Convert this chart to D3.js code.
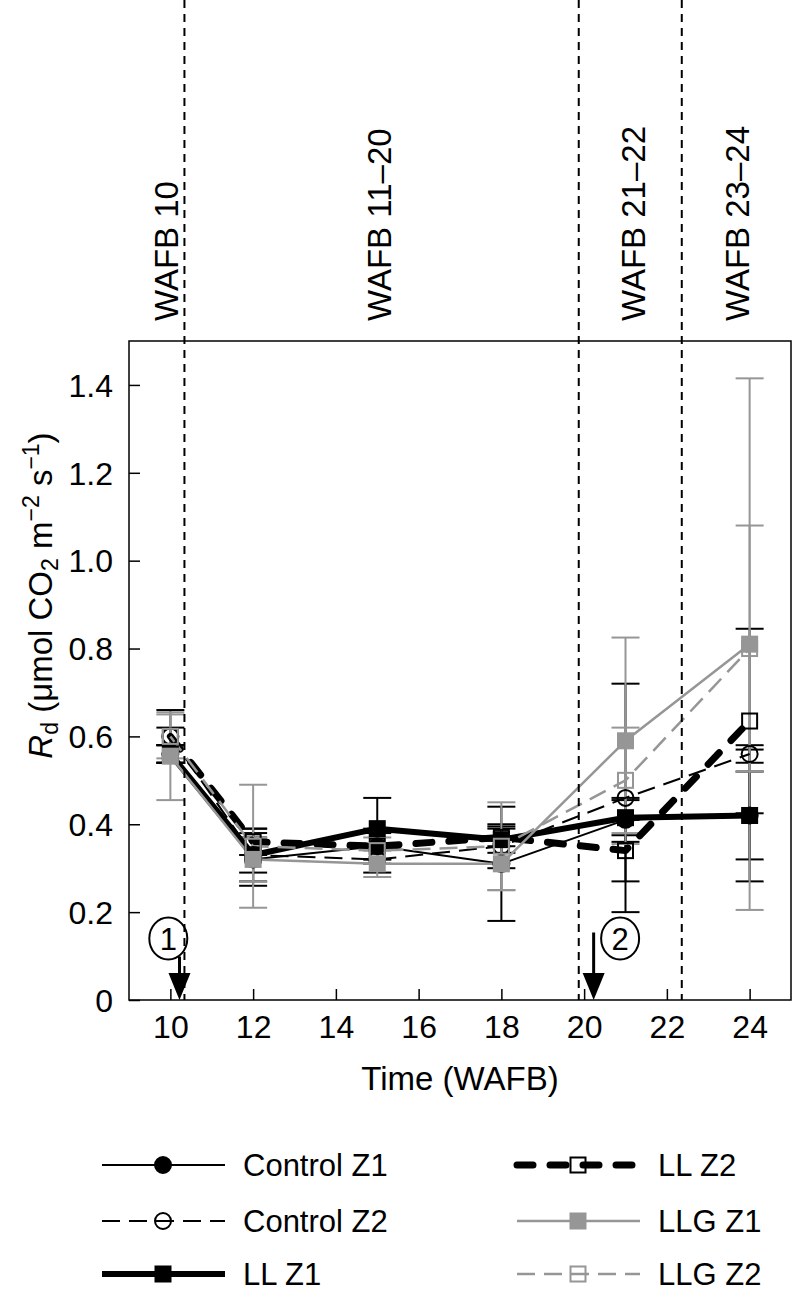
<!DOCTYPE html>
<html>
<head>
<meta charset="utf-8">
<script src="https://cdn.jsdelivr.net/npm/d3@7"></script>
<style>
  body { margin: 0; background: #fff; }
  svg text { font-family: "Liberation Sans", Arial, Helvetica, sans-serif; fill: #000; }
</style>
</head>
<body>
<div id="chart"></div>
<script>
// Sampling times (WAFB)
const times = [10, 12, 15, 18, 21, 24];

// Rd means per treatment / zone
const controlZ1 = [0.56, 0.32, 0.35, 0.31, 0.41, 0.42];
const controlZ2 = [0.60, 0.33, 0.32, 0.35, 0.46, 0.56];
const llZ1 = [0.56, 0.33, 0.39, 0.365, 0.415, 0.42];
const llZ2 = [0.60, 0.36, 0.35, 0.37, 0.34, 0.635];
const llgZ1 = [0.555, 0.32, 0.31, 0.31, 0.59, 0.81];
const llgZ2 = [0.60, 0.35, 0.34, 0.35, 0.50, 0.80];

// standard errors
const controlZ1Se = [0.02, 0.06, 0.04, 0.13, 0.05, 0.15];
const controlZ2Se = [0.06, 0.04, 0.03, 0.05, 0.26, 0.02];
const llZ1Se = [0.02, 0.06, 0.07, 0.03, 0.04, 0.10];
const llZ2Se = [0.02, 0.03, 0.03, 0.02, 0.07, 0.21];
const llgZ1Se = [0.10, 0.05, 0.03, 0.06, 0.235, 0.605];
const llgZ2Se = [0.05, 0.14, 0.03, 0.10, 0.12, 0.28];

const xTicks = [10, 12, 14, 16, 18, 20, 22, 24];
const yTicks = [0, 0.2, 0.4, 0.6, 0.8, 1.0, 1.2, 1.4];

// period boundaries and labels
const periodLines = [10.34, 19.87, 22.36];
const periodLabels = ["WAFB 10", "WAFB 11\u201320", "WAFB 21\u201322", "WAFB 23\u201324"];
const periodLabelX = [9.9, 15.05, 21.2, 23.7];

// numbered arrows
const arrowLabels = ["1", "2"];
const arrowX = [10.22, 20.23];
const arrowCircleX = [9.95, 20.87];

const GRAY = "#969696";

const series = [
  { name: "Control Z1", values: controlZ1, se: controlZ1Se, color: "#000", width: 2, dash: null, marker: "circle", fill: "#000" },
  { name: "Control Z2", values: controlZ2, se: controlZ2Se, color: "#000", width: 2, dash: "18,9", marker: "circle", fill: "none" },
  { name: "LL Z1", values: llZ1, se: llZ1Se, color: "#000", width: 6, dash: null, marker: "square", fill: "#000" },
  { name: "LL Z2", values: llZ2, se: llZ2Se, color: "#000", width: 7, dash: "16,17", cap: "round", marker: "square", fill: "none" },
  { name: "LLG Z1", values: llgZ1, se: llgZ1Se, color: GRAY, width: 2.5, dash: null, marker: "square", fill: GRAY },
  { name: "LLG Z2", values: llgZ2, se: llgZ2Se, color: GRAY, width: 2.5, dash: "18,9", marker: "square", fill: "none" }
];

const width = 794;
const height = 1296;
const margin = { top: 341, right: 3, bottom: 296, left: 129 };
const innerW = width - margin.left - margin.right;
const innerH = height - margin.top - margin.bottom;

const svg = d3.select("#chart").append("svg")
  .attr("width", width)
  .attr("height", height);

const g = svg.append("g").attr("transform", `translate(${margin.left},${margin.top})`);

const x = d3.scaleLinear().domain([9, 25]).range([0, innerW]);
const y = d3.scaleLinear().domain([0, 1.5]).range([innerH, 0]);

// period separators, running up to the top of the page
svg.selectAll("line.period")
  .data(periodLines)
  .enter()
  .append("line")
  .attr("class", "period")
  .attr("x1", d => margin.left + x(d))
  .attr("x2", d => margin.left + x(d))
  .attr("y1", 0)
  .attr("y2", margin.top + innerH)
  .attr("stroke", "#000")
  .attr("stroke-width", 2)
  .attr("stroke-dasharray", "8,6");

svg.selectAll("text.period")
  .data(periodLabels)
  .enter()
  .append("text")
  .attr("class", "period")
  .attr("transform", (d, i) => `translate(${margin.left + x(periodLabelX[i])},${margin.top - 20}) rotate(-90)`)
  .attr("dy", "0.35em")
  .attr("font-size", 33)
  .text(d => d);

// axes, ticks pointing inward
const xAxis = g.append("g")
  .attr("transform", `translate(0,${innerH})`)
  .call(d3.axisBottom(x).tickValues(xTicks).tickSizeInner(-11).tickSizeOuter(0).tickPadding(15));
const yAxis = g.append("g")
  .call(d3.axisLeft(y).tickValues(yTicks).tickSizeInner(-11).tickSizeOuter(0).tickPadding(16)
    .tickFormat(d => d === 0 ? "0" : d3.format(".1f")(d)));

[xAxis, yAxis].forEach(a => {
  a.select(".domain").remove();
  a.selectAll(".tick line").attr("stroke", "#000").attr("stroke-width", 1.5);
  a.selectAll(".tick text").attr("font-size", 32).attr("font-family", "Liberation Sans, Arial, sans-serif");
});
xAxis.selectAll(".tick text").attr("dy", "0.71em");
yAxis.selectAll(".tick text").attr("dy", "0.35em");

g.append("rect")
  .attr("width", innerW)
  .attr("height", innerH)
  .attr("fill", "none")
  .attr("stroke", "#000")
  .attr("stroke-width", 1.5);

// axis titles
svg.append("text")
  .attr("x", margin.left + innerW / 2)
  .attr("y", margin.top + innerH + 90)
  .attr("text-anchor", "middle")
  .attr("font-size", 33)
  .text("Time (WAFB)");

const yTitle = svg.append("text")
  .attr("transform", `translate(40,${margin.top + innerH / 2 - 75}) rotate(-90)`)
  .attr("text-anchor", "middle")
  .attr("dy", "0.35em")
  .attr("font-size", 33);
yTitle.append("tspan").attr("font-style", "italic").text("R");
yTitle.append("tspan").attr("font-size", 23).attr("baseline-shift", "-25%").text("d");
yTitle.append("tspan").text(" (\u03bcmol CO");
yTitle.append("tspan").attr("font-size", 23).attr("baseline-shift", "-25%").text("2");
yTitle.append("tspan").text(" m");
yTitle.append("tspan").attr("font-size", 23).attr("baseline-shift", "super").text("\u22122");
yTitle.append("tspan").text(" s");
yTitle.append("tspan").attr("font-size", 23).attr("baseline-shift", "super").text("\u22121");
yTitle.append("tspan").text(")");

// error bars
const capW = 14;
series.forEach(s => {
  const eb = g.append("g").attr("stroke", s.color).attr("stroke-width", 2).attr("fill", "none");
  s.values.forEach((v, i) => {
    const cx = x(times[i]);
    const y0 = y(v - s.se[i]);
    const y1 = y(v + s.se[i]);
    eb.append("line").attr("x1", cx).attr("x2", cx).attr("y1", y0).attr("y2", y1);
    eb.append("line").attr("x1", cx - capW).attr("x2", cx + capW).attr("y1", y0).attr("y2", y0);
    eb.append("line").attr("x1", cx - capW).attr("x2", cx + capW).attr("y1", y1).attr("y2", y1);
  });
});

// lines
const line = d3.line().x((d, i) => x(times[i])).y(d => y(d));
series.forEach(s => {
  g.append("path")
    .datum(s.values)
    .attr("d", line)
    .attr("fill", "none")
    .attr("stroke", s.color)
    .attr("stroke-width", s.width)
    .attr("stroke-linecap", s.cap || "butt")
    .attr("stroke-linejoin", "round")
    .attr("stroke-dasharray", s.dash);
});

function drawMarker(sel, s, cx, cy) {
  if (s.marker === "circle") {
    sel.append("circle")
      .attr("cx", cx).attr("cy", cy).attr("r", 8)
      .attr("fill", s.fill)
      .attr("stroke", s.color)
      .attr("stroke-width", 2);
  } else {
    const sz = s.fill === "none" ? 15 : 17;
    sel.append("rect")
      .attr("x", cx - sz / 2).attr("y", cy - sz / 2)
      .attr("width", sz).attr("height", sz)
      .attr("fill", s.fill)
      .attr("stroke", s.color)
      .attr("stroke-width", s.fill === "none" ? 2 : 0);
  }
}

// markers
series.forEach(s => {
  const mg = g.append("g");
  s.values.forEach((v, i) => drawMarker(mg, s, x(times[i]), y(v)));
});

// numbered arrows
arrowLabels.forEach((lab, i) => {
  const ax = x(arrowX[i]);
  const cx = x(arrowCircleX[i]);
  const cy = y(0.14);
  g.append("ellipse")
    .attr("cx", cx).attr("cy", cy).attr("rx", 19).attr("ry", 21)
    .attr("fill", "#fff").attr("stroke", "#000").attr("stroke-width", 2);
  g.append("text")
    .attr("x", cx).attr("y", cy)
    .attr("dy", "0.36em")
    .attr("text-anchor", "middle")
    .attr("font-size", 31)
    .text(lab);
  g.append("line")
    .attr("x1", ax).attr("x2", ax)
    .attr("y1", y(0.14) + (i === 0 ? 18 : -6)).attr("y2", innerH - 24)
    .attr("stroke", "#000").attr("stroke-width", 3);
  g.append("path")
    .attr("d", `M${ax - 11},${innerH - 27} L${ax + 11},${innerH - 27} L${ax},${innerH} Z`)
    .attr("fill", "#000");
});

// legend
const legendRowsY = [1165, 1221, 1274];
const legend = svg.append("g");
series.forEach((s, i) => {
  const col = i < 3 ? 0 : 1;
  const row = i % 3;
  const x0 = col === 0 ? 102 : 517;
  const ly = legendRowsY[row];
  const item = legend.append("g");
  item.append("line")
    .attr("x1", x0).attr("x2", x0 + 123)
    .attr("y1", ly).attr("y2", ly)
    .attr("stroke", s.color)
    .attr("stroke-width", s.width)
    .attr("stroke-linecap", s.cap || "butt")
    .attr("stroke-dasharray", s.dash);
  drawMarker(item, s, x0 + 61, ly);
  item.append("text")
    .attr("x", x0 + 141)
    .attr("y", ly)
    .attr("dy", "0.35em")
    .attr("font-size", 31)
    .text(s.name);
});
</script>
</body>
</html>
